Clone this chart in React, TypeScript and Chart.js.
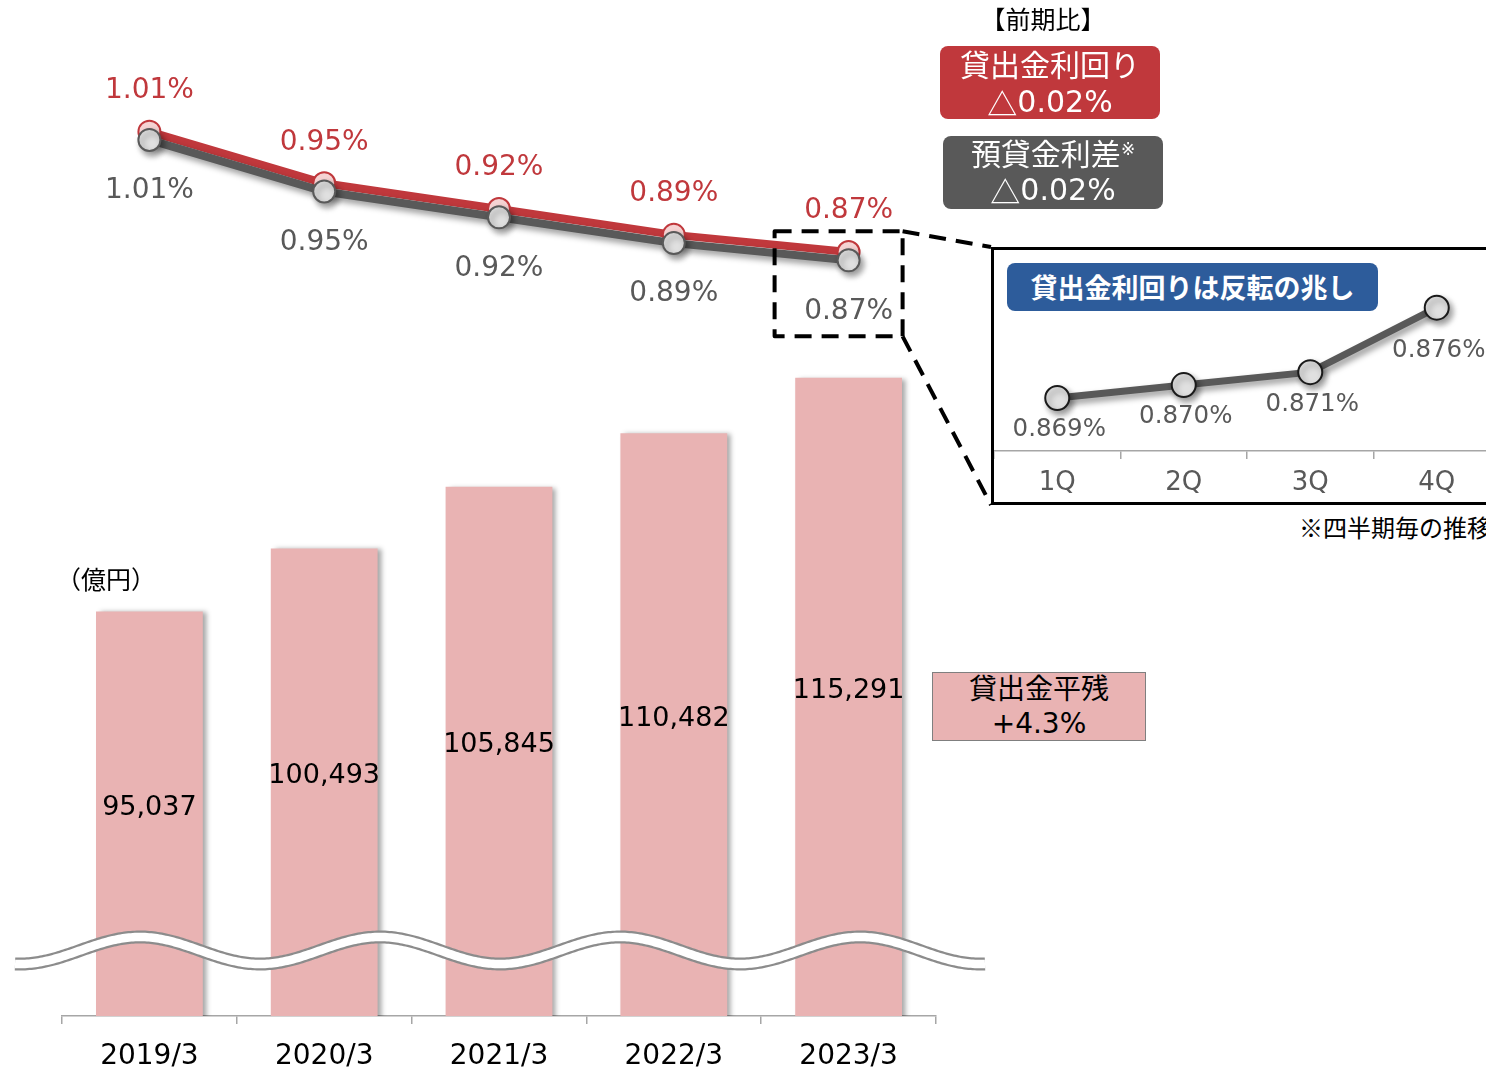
import React, { useEffect, useRef } from "react";
import { Chart, registerables } from "chart.js";

Chart.register(...registerables);

// ---------- data ----------
const categories = ["2019/3", "2020/3", "2021/3", "2022/3", "2023/3"];
const loanBalance = [95037, 100493, 105845, 110482, 115291]; // 貸出金平残（億円）
const loanYield = [1.0148, 0.9548, 0.9248, 0.8948, 0.8748]; // 貸出金利回り (%)
const loanSpread = [1.0052, 0.9452, 0.9152, 0.8852, 0.8652]; // 預貸金利差 (%)
const quarters = ["1Q", "2Q", "3Q", "4Q"];
const quarterlyYield = [0.869, 0.87, 0.871, 0.876]; // 四半期毎の貸出金利回り (%)

const LATIN = "'DejaVu Sans', 'Noto Sans CJK JP', sans-serif";
const JP = "'Noto Sans CJK JP', 'DejaVu Sans', sans-serif";
const RED = "#c0383c";
const GRAY = "#595959";
const PINK = "#e9b3b3";
const AXIS = "#a6a6a6";

const shadowPlugin = {
  id: "shadowPlugin",
  beforeDatasetDraw(chart: any, args: any) {
    const s = chart.data.datasets[args.index].shadow;
    if (!s) return;
    const ctx = chart.ctx;
    ctx.save();
    ctx.shadowColor = s.color;
    ctx.shadowBlur = s.blur;
    ctx.shadowOffsetX = s.x;
    ctx.shadowOffsetY = s.y;
  },
  afterDatasetDraw(chart: any, args: any) {
    const s = chart.data.datasets[args.index].shadow;
    if (s) chart.ctx.restore();
  },
};

const mainDecor = {
  id: "mainDecor",
  afterDatasetsDraw(chart: any) {
    const ctx = chart.ctx as CanvasRenderingContext2D;
    const area = chart.chartArea;
    ctx.save();
    // wavy axis break
    const yc = area.bottom - 65.5;
    ctx.beginPath();
    for (let x = 15; x <= 985; x += 2) {
      const y = yc - 13.5 * Math.cos((2 * Math.PI * (x - 140)) / 240);
      if (x === 15) ctx.moveTo(x, y);
      else ctx.lineTo(x, y);
    }
    ctx.lineCap = "butt";
    ctx.lineJoin = "round";
    ctx.strokeStyle = "#8c8c8c";
    ctx.lineWidth = 13;
    ctx.stroke();
    ctx.strokeStyle = "#ffffff";
    ctx.lineWidth = 8.5;
    ctx.stroke();

    // bar value labels
    ctx.textAlign = "center";
    ctx.textBaseline = "middle";
    ctx.font = `27px ${LATIN}`;
    ctx.fillStyle = "#000";
    const barMeta = chart.getDatasetMeta(2);
    barMeta.data.forEach((bar: any, i: number) => {
      const base = Math.min(bar.base, area.bottom);
      ctx.fillText(loanBalance[i].toLocaleString("en-US"), bar.x, (bar.y + base) / 2 - 6);
    });

    // line labels
    ctx.font = `28px ${LATIN}`;
    const redMeta = chart.getDatasetMeta(1);
    ctx.fillStyle = RED;
    redMeta.data.forEach((pt: any, i: number) => {
      ctx.fillText(loanYield[i].toFixed(2) + "%", pt.x, pt.y - 41);
    });
    const grayMeta = chart.getDatasetMeta(0);
    ctx.fillStyle = GRAY;
    grayMeta.data.forEach((pt: any, i: number) => {
      ctx.fillText(loanSpread[i].toFixed(2) + "%", pt.x, pt.y + 51);
    });

    // dashed zoom box around the latest point
    const last = grayMeta.data[grayMeta.data.length - 1];
    const left = last.x - 74;
    const right = last.x + 54;
    const top = last.y - 29;
    const bottom = last.y + 76;
    ctx.setLineDash([17, 10]);
    ctx.strokeStyle = "#000";
    ctx.lineWidth = 4;
    ctx.beginPath();
    ctx.rect(left, top, right - left, bottom - top);
    ctx.stroke();
    ctx.beginPath();
    ctx.moveTo(right, top);
    ctx.lineTo(991, 247);
    ctx.moveTo(right, bottom);
    ctx.lineTo(991, 505);
    ctx.stroke();
    ctx.restore();
  },
};

const insetDecor = {
  id: "insetDecor",
  afterDatasetsDraw(chart: any) {
    const ctx = chart.ctx as CanvasRenderingContext2D;
    ctx.save();
    ctx.textAlign = "center";
    ctx.textBaseline = "middle";
    ctx.font = `24.5px ${LATIN}`;
    ctx.fillStyle = GRAY;
    const meta = chart.getDatasetMeta(0);
    meta.data.forEach((pt: any, i: number) => {
      const dy = i === meta.data.length - 1 ? 43 : 32;
      ctx.fillText(quarterlyYield[i].toFixed(3) + "%", pt.x + 2, pt.y + dy);
    });
    ctx.restore();
  },
};

export default function App() {
  const mainRef = useRef<HTMLCanvasElement>(null);
  const insetRef = useRef<HTMLCanvasElement>(null);

  useEffect(() => {
    const main = new Chart(mainRef.current as HTMLCanvasElement, {
      type: "bar",
      data: {
        labels: categories,
        datasets: [
          {
            type: "line",
            label: "預貸金利差",
            data: loanSpread,
            yAxisID: "y2",
            order: 0,
            borderColor: GRAY,
            borderWidth: 8,
            pointRadius: 11,
            pointBackgroundColor: "#e0e0e0",
            pointBorderColor: GRAY,
            pointBorderWidth: 2,
            tension: 0,
            shadow: { color: "rgba(0,0,0,0.4)", blur: 6, x: 3, y: 4 },
          } as any,
          {
            type: "line",
            label: "貸出金利回り",
            data: loanYield,
            yAxisID: "y2",
            order: 1,
            borderColor: RED,
            borderWidth: 8,
            pointRadius: 11,
            pointBackgroundColor: "#f5d3d3",
            pointBorderColor: RED,
            pointBorderWidth: 2,
            tension: 0,
          } as any,
          {
            type: "bar",
            label: "貸出金平残",
            data: loanBalance,
            yAxisID: "y",
            order: 2,
            backgroundColor: PINK,
            borderWidth: 0,
            barPercentage: 0.611,
            categoryPercentage: 1,
            shadow: { color: "rgba(0,0,0,0.35)", blur: 5, x: 4, y: 1 },
          } as any,
        ],
      },
      options: {
        responsive: false,
        maintainAspectRatio: false,
        animation: false,
        layout: { autoPadding: false, padding: { left: 62, right: 64, top: 0, bottom: 10 } },
        plugins: { legend: { display: false }, tooltip: { enabled: false } },
        scales: {
          x: {
            offset: true,
            grid: {
              offset: true,
              drawOnChartArea: false,
              drawTicks: true,
              tickLength: 8,
              color: AXIS,
              lineWidth: 1.5,
            },
            border: { display: true, color: AXIS, width: 1.5 },
            ticks: {
              color: "#000",
              font: { family: LATIN, size: 28 },
              padding: 16.2,
              maxRotation: 0,
              autoSkip: false,
            },
          },
          y: { display: false, min: 60000, max: 148000 },
          y2: { display: false, min: -0.0135, max: 1.1679 },
        },
      },
      plugins: [shadowPlugin, mainDecor],
    } as any);

    const inset = new Chart(insetRef.current as HTMLCanvasElement, {
      type: "line",
      data: {
        labels: quarters,
        datasets: [
          {
            label: "貸出金利回り（四半期）",
            data: quarterlyYield,
            borderColor: GRAY,
            borderWidth: 7,
            pointRadius: 12,
            pointBackgroundColor: "#e0e0e0",
            pointBorderColor: "#1a1a1a",
            pointBorderWidth: 2,
            tension: 0,
            clip: false,
            shadow: { color: "rgba(0,0,0,0.4)", blur: 6, x: 3, y: 4 },
          } as any,
        ],
      },
      options: {
        responsive: false,
        maintainAspectRatio: false,
        animation: false,
        layout: { autoPadding: false, padding: { left: 0, right: 0, top: 0, bottom: 13 } },
        plugins: { legend: { display: false }, tooltip: { enabled: false } },
        scales: {
          x: {
            offset: true,
            grid: {
              offset: true,
              drawOnChartArea: false,
              drawTicks: true,
              tickLength: 8,
              color: AXIS,
              lineWidth: 1.5,
            },
            border: { display: true, color: AXIS, width: 1.5 },
            ticks: {
              color: GRAY,
              font: { family: LATIN, size: 26 },
              padding: 8.4,
              maxRotation: 0,
              autoSkip: false,
            },
          },
          y: { display: false, min: 0.86489, max: 0.88047 },
        },
      },
      plugins: [shadowPlugin, insetDecor],
    } as any);

    return () => {
      main.destroy();
      inset.destroy();
    };
  }, []);

  const abs = (s: React.CSSProperties): React.CSSProperties => ({ position: "absolute", ...s });
  const tri = <span style={{ fontFamily: JP, verticalAlign: "top", lineHeight: "36px" }}>△</span>;
  const line = (top: number, content: React.ReactNode) => (
    <div style={abs({ left: 0, right: 0, top, height: 36, lineHeight: "36px", textAlign: "center", whiteSpace: "nowrap" })}>{content}</div>
  );

  return (
    <div
      style={{
        position: "absolute",
        left: 0,
        top: 0,
        width: 1486,
        height: 1072,
        overflow: "hidden",
        background: "#fff",
        fontFamily: LATIN,
      }}
    >
      <canvas ref={mainRef} width={1000} height={1100} style={{ position: "absolute", left: 0, top: 0 }} />

      {/* header */}
      <div style={abs({ left: 943, top: 3, width: 200, textAlign: "center", fontSize: 25, lineHeight: "30px", color: "#000", fontFamily: JP })}>
        【前期比】
      </div>
      <div
        style={abs({
          left: 940,
          top: 46,
          width: 220,
          height: 73,
          background: RED,
          borderRadius: 8,
          color: "#fff",
          fontSize: 30,
        })}
      >
        {line(2, "貸出金利回り")}
        {line(38, <>{tri}0.02%</>)}
      </div>
      <div
        style={abs({
          left: 943,
          top: 136,
          width: 220,
          height: 73,
          background: GRAY,
          borderRadius: 8,
          color: "#fff",
          fontSize: 30,
        })}
      >
        {line(1, <>預貸金利差<span style={{ fontSize: 17, position: "relative", top: -10 }}>※</span></>)}
        {line(36, <>{tri}0.02%</>)}
      </div>

      {/* unit */}
      <div style={abs({ left: 56, top: 563, fontSize: 25, lineHeight: "30px", color: "#000", fontFamily: JP })}>（億円）</div>

      {/* balance growth box */}
      <div
        style={abs({
          left: 932,
          top: 672,
          width: 214,
          height: 69,
          background: PINK,
          border: "1.5px solid #7f7f7f",
          boxSizing: "border-box",
          color: "#000",
          fontSize: 28,
          lineHeight: "34px",
          textAlign: "center",
        })}
      >
        <div>貸出金平残</div>
        <div>+4.3%</div>
      </div>

      {/* inset */}
      <div
        style={abs({
          left: 991,
          top: 247,
          width: 520,
          height: 258,
          border: "3px solid #000",
          boxSizing: "border-box",
          background: "#fff",
          overflow: "hidden",
        })}
      >
        <canvas ref={insetRef} width={506} height={270} style={{ position: "absolute", left: 0, top: 0 }} />
        <div
          style={abs({
            left: 13,
            top: 13,
            width: 371,
            height: 48,
            background: "#2d5c9b",
            borderRadius: 8,
            color: "#fff",
            fontWeight: "bold",
            fontSize: 27,
            lineHeight: "48px",
            textAlign: "center",
            fontFamily: JP,
          })}
        >
          貸出金利回りは反転の兆し
        </div>
      </div>
      <div style={abs({ left: 1299, top: 512, fontSize: 24, lineHeight: "30px", color: "#000", whiteSpace: "nowrap", fontFamily: JP })}>
        ※四半期毎の推移
      </div>
    </div>
  );
}
